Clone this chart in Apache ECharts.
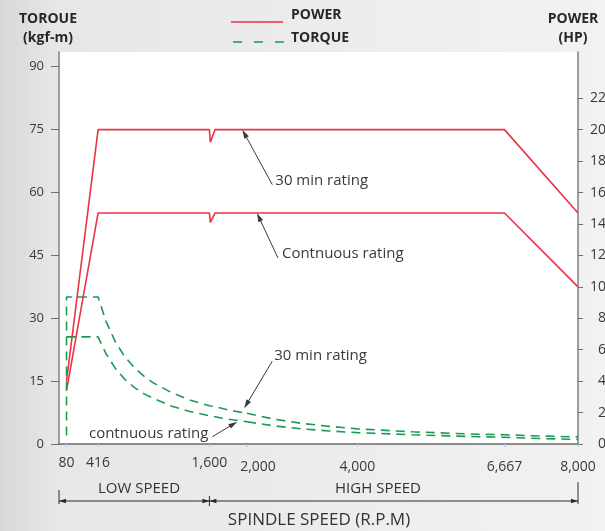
<!DOCTYPE html>
<html>
<head>
<meta charset="utf-8">
<title>spindle power / torque</title>
<style>
  html, body { margin: 0; padding: 0; }
  #chart { width: 605px; height: 531px; }
</style>
</head>
<body>
<div id="chart"></div>
<script src="https://cdn.jsdelivr.net/npm/echarts@6/dist/echarts.min.js"></script>
<script>
// power, [rpm, HP]
var power30 = [[80, 4.0], [416, 20], [1600, 20], [1610, 19.2], [1660, 20], [2000, 20], [6667, 20], [8000, 14.7]];
var powerCont = [[80, 3.4], [416, 14.7], [1600, 14.7], [1610, 14.1], [1660, 14.7], [2000, 14.7], [6667, 14.7], [8000, 10]];
// torque, [rpm, kgf-m]
var torque30 = [[80, 2], [80, 35], [416, 35], [500, 29.2], [600, 24.3], [700, 20.8], [800, 18.2], [900, 16.2],
  [1000, 14.6], [1200, 12.2], [1400, 10.4], [1600, 9.1], [1660, 8.9], [1800, 8.1], [2000, 7.3], [2500, 5.9],
  [3000, 4.9], [3500, 4.2], [4000, 3.6], [5000, 2.9], [6000, 2.4], [6667, 2.2], [7300, 1.9], [8000, 1.7]];
var torqueCont = [[80, 25.5], [416, 25.5], [500, 21.5], [600, 18], [700, 15.4], [800, 13.5], [900, 12],
  [1000, 10.9], [1200, 9.0], [1400, 7.7], [1600, 6.7], [1660, 6.5], [1800, 5.9], [2000, 5.3], [2500, 4.3],
  [3000, 3.6], [3500, 3.1], [4000, 2.7], [5000, 2.2], [6000, 1.8], [6667, 1.6], [7300, 1.3], [8000, 1.1]];

var torqueTicks = [0, 15, 30, 45, 60, 75, 90];
var powerTicks = [0, 2, 4, 6, 8, 10, 12, 14, 16, 18, 20, 22];
var lowTicks = [80, 416, 1600];
var highTicks = [2000, 4000, 6667, 8000];
var scaleBreak = 2000; // x scale changes here (two grids)
var gearChange = 1600;

var red = '#ea3344', green = '#1b9a52', ink = '#2a2627';
var font = '"Open Sans", sans-serif';

function low(d) { return d.filter(function (p) { return p[0] <= scaleBreak; }); }
function high(d) { return d.filter(function (p) { return p[0] >= scaleBreak; }); }

var chart = echarts.init(document.getElementById('chart'));

function xLabel(margin) {
  return {
    margin: margin, fontSize: 14, fontFamily: font, color: '#3a3a3a',
    formatter: function (v) {
      var s = echarts.format.addCommas(v);
      return v === scaleBreak ? '{s|' + s + '}' : s;
    },
    rich: { s: { padding: [0, 0, 0, 22], fontSize: 14, fontFamily: font, color: '#3a3a3a' } }
  };
}

var powerLine = { color: red, width: 1.6 };
var torqueLine = { color: green, width: 1.6, type: [9, 6] };

chart.setOption({
  backgroundColor: {
    type: 'linear', x: 0, y: 0, x2: 1, y2: 0,
    colorStops: [{ offset: 0, color: '#d7d7d7' }, { offset: 0.09, color: '#e7e7e7' }, { offset: 1, color: '#f2f2f2' }]
  },
  animation: false,
  grid: [
    { left: 59, top: 52, width: 188, height: 392, show: true, backgroundColor: '#fff', borderWidth: 0, outerBoundsMode: 'none' },
    { left: 247, top: 52, width: 331, height: 392, show: true, backgroundColor: '#fff', borderWidth: 0, outerBoundsMode: 'none' }
  ],
  xAxis: [
    {
      gridIndex: 0, type: 'value', min: 0, max: scaleBreak,
      axisLine: { lineStyle: { color: '#6a6a6a', width: 1.5 } },
      axisTick: { customValues: lowTicks, length: 3, lineStyle: { color: '#9fd0e4' } },
      axisLabel: Object.assign({ customValues: lowTicks }, xLabel(12)),
      splitLine: { show: false }
    },
    {
      gridIndex: 1, type: 'value', min: scaleBreak, max: 8000,
      axisLine: { lineStyle: { color: '#6a6a6a', width: 1.5 } },
      axisTick: { customValues: highTicks, length: 3, lineStyle: { color: '#9fd0e4' } },
      axisLabel: Object.assign({ customValues: highTicks }, xLabel(16)),
      splitLine: { show: false }
    }
  ],
  yAxis: [
    {
      gridIndex: 0, type: 'value', position: 'left', min: 0, max: 93.33,
      axisLine: { show: true, lineStyle: { color: '#808080', width: 1.5 } },
      axisTick: { show: true, customValues: torqueTicks, length: 8, lineStyle: { color: '#707070' } },
      axisLabel: { customValues: torqueTicks, margin: 15, fontSize: 13, fontFamily: font, color: '#3a3a3a' },
      splitLine: { show: false }
    },
    { gridIndex: 0, type: 'value', min: 0, max: 24.94, show: false },
    { gridIndex: 1, type: 'value', min: 0, max: 93.33, show: false },
    {
      gridIndex: 1, type: 'value', position: 'right', min: 0, max: 24.94,
      axisLine: { show: true, lineStyle: { color: '#808080', width: 1.5 } },
      axisTick: { show: true, customValues: powerTicks, length: 5, lineStyle: { color: '#707070' } },
      axisLabel: { customValues: powerTicks, margin: 28, align: 'right', fontSize: 14, fontFamily: font, color: '#3a3a3a' },
      splitLine: { show: false }
    }
  ],
  series: [
    { name: 'POWER 30', type: 'line', xAxisIndex: 0, yAxisIndex: 1, data: low(power30), symbol: 'none', lineStyle: powerLine },
    { name: 'POWER 30', type: 'line', xAxisIndex: 1, yAxisIndex: 3, data: high(power30), symbol: 'none', lineStyle: powerLine },
    { name: 'POWER cont', type: 'line', xAxisIndex: 0, yAxisIndex: 1, data: low(powerCont), symbol: 'none', lineStyle: powerLine },
    { name: 'POWER cont', type: 'line', xAxisIndex: 1, yAxisIndex: 3, data: high(powerCont), symbol: 'none', lineStyle: powerLine },
    { name: 'TORQUE 30', type: 'line', xAxisIndex: 0, yAxisIndex: 0, data: low(torque30), symbol: 'none', lineStyle: torqueLine },
    { name: 'TORQUE 30', type: 'line', xAxisIndex: 1, yAxisIndex: 2, data: high(torque30), symbol: 'none', lineStyle: torqueLine },
    { name: 'TORQUE cont', type: 'line', xAxisIndex: 0, yAxisIndex: 0, data: low(torqueCont), symbol: 'none', lineStyle: torqueLine },
    { name: 'TORQUE cont', type: 'line', xAxisIndex: 1, yAxisIndex: 2, data: high(torqueCont), symbol: 'none', lineStyle: torqueLine }
  ]
});

// ---- annotations, legend, titles ----
function px(grid, axisY, pt) {
  return chart.convertToPixel({ xAxisIndex: grid, yAxisIndex: axisY }, pt);
}

function arrowEls(x1, y1, x2, y2, color, len, half) {
  var a = Math.atan2(y2 - y1, x2 - x1), c = Math.cos(a), s = Math.sin(a);
  return [
    { type: 'line', shape: { x1: x1, y1: y1, x2: x2 - c * len * 0.6, y2: y2 - s * len * 0.6 }, style: { stroke: color, lineWidth: 1 } },
    { type: 'polygon', shape: { points: [[x2, y2], [x2 - c * len + s * half, y2 - s * len - c * half], [x2 - c * len - s * half, y2 - s * len + c * half]] }, style: { fill: color } }
  ];
}

function txt(x, y, str, size, opts) {
  return {
    type: 'text', x: x, y: y,
    style: Object.assign({ text: str, fontSize: size, fontFamily: font, fill: ink, align: 'left', verticalAlign: 'middle' }, opts || {})
  };
}

var g = [];
// callouts: tip on the curve (data coords), tail offset in px
var notes = [
  { grid: 0, ax: 1, tip: [1950, 20], dx: 30, dy: 55, text: '30 min rating', tx: 3, ty: -4, align: 'left' },
  { grid: 1, ax: 3, tip: [2180, 14.7], dx: 21, dy: 45, text: 'Contnuous rating', tx: 4, ty: -4, align: 'left' },
  { grid: 0, ax: 0, tip: [1970, 8.5], dx: 28, dy: -47, text: '30 min rating', tx: 2, ty: -6, align: 'left' },
  { grid: 0, ax: 0, tip: [1897, 5.3], dx: -25, dy: 15, text: 'contnuous rating', tx: -4, ty: -3, align: 'right' }
];
notes.forEach(function (n) {
  var p = px(n.grid, n.ax, n.tip);
  var tx = p[0] + n.dx, ty = p[1] + n.dy;
  g = g.concat(arrowEls(tx, ty, p[0], p[1], '#3a3a3a', 9, 2.6));
  g.push(txt(tx + n.tx, ty + n.ty, n.text, 15, { align: n.align, fill: '#3a3a3a' }));
});

// legend
g.push({ type: 'line', shape: { x1: 231, y1: 22, x2: 283, y2: 22 }, style: { stroke: red, lineWidth: 1.6 } });
g.push({ type: 'line', shape: { x1: 233, y1: 42, x2: 287, y2: 42 }, style: { stroke: green, lineWidth: 1.6, lineDash: [9, 12] } });
g.push(txt(291, 15, 'POWER', 14, { fontWeight: 'bold' }));
g.push(txt(291, 38, 'TORQUE', 14, { fontWeight: 'bold' }));

// axis titles
g.push(txt(48, 19, 'TOROUE', 14, { fontWeight: 'bold', align: 'center' }));
g.push(txt(48, 38, '(kgf-m)', 14, { fontWeight: 'bold', align: 'center' }));
g.push(txt(573, 19, 'POWER', 14, { fontWeight: 'bold', align: 'center' }));
g.push(txt(573, 38, '(HP)', 14, { fontWeight: 'bold', align: 'center' }));

// speed range dimension line
var xL = px(0, 0, [0, 0])[0], xM = px(0, 0, [gearChange, 0])[0], xR = px(1, 2, [8000, 0])[0];
var yd = 501, dim = '#2a2a2a';
g.push({ type: 'line', shape: { x1: xL, y1: yd, x2: xR, y2: yd }, style: { stroke: dim, lineWidth: 1 } });
g.push({ type: 'line', shape: { x1: xL, y1: 490, x2: xL, y2: 504 }, style: { stroke: dim, lineWidth: 1 } });
g.push({ type: 'line', shape: { x1: xM, y1: 496, x2: xM, y2: 506 }, style: { stroke: dim, lineWidth: 1 } });
g.push({ type: 'line', shape: { x1: xR, y1: 482, x2: xR, y2: 504 }, style: { stroke: dim, lineWidth: 1 } });
[[xL + 8, xL], [xM - 8, xM], [xM + 8, xM], [xR - 8, xR]].forEach(function (a) {
  g = g.concat(arrowEls(a[0], yd, a[1], yd, dim, 7, 2.2).slice(1));
});
g.push(txt(139, 489, 'LOW SPEED', 15, { align: 'center', fill: '#333' }));
g.push(txt(378, 489, 'HIGH SPEED', 15, { align: 'center', fill: '#333' }));
g.push(txt(319, 520, 'SPINDLE SPEED (R.P.M)', 17, { align: 'center', fill: '#333' }));

chart.setOption({ graphic: g });
</script>
</body>
</html>
